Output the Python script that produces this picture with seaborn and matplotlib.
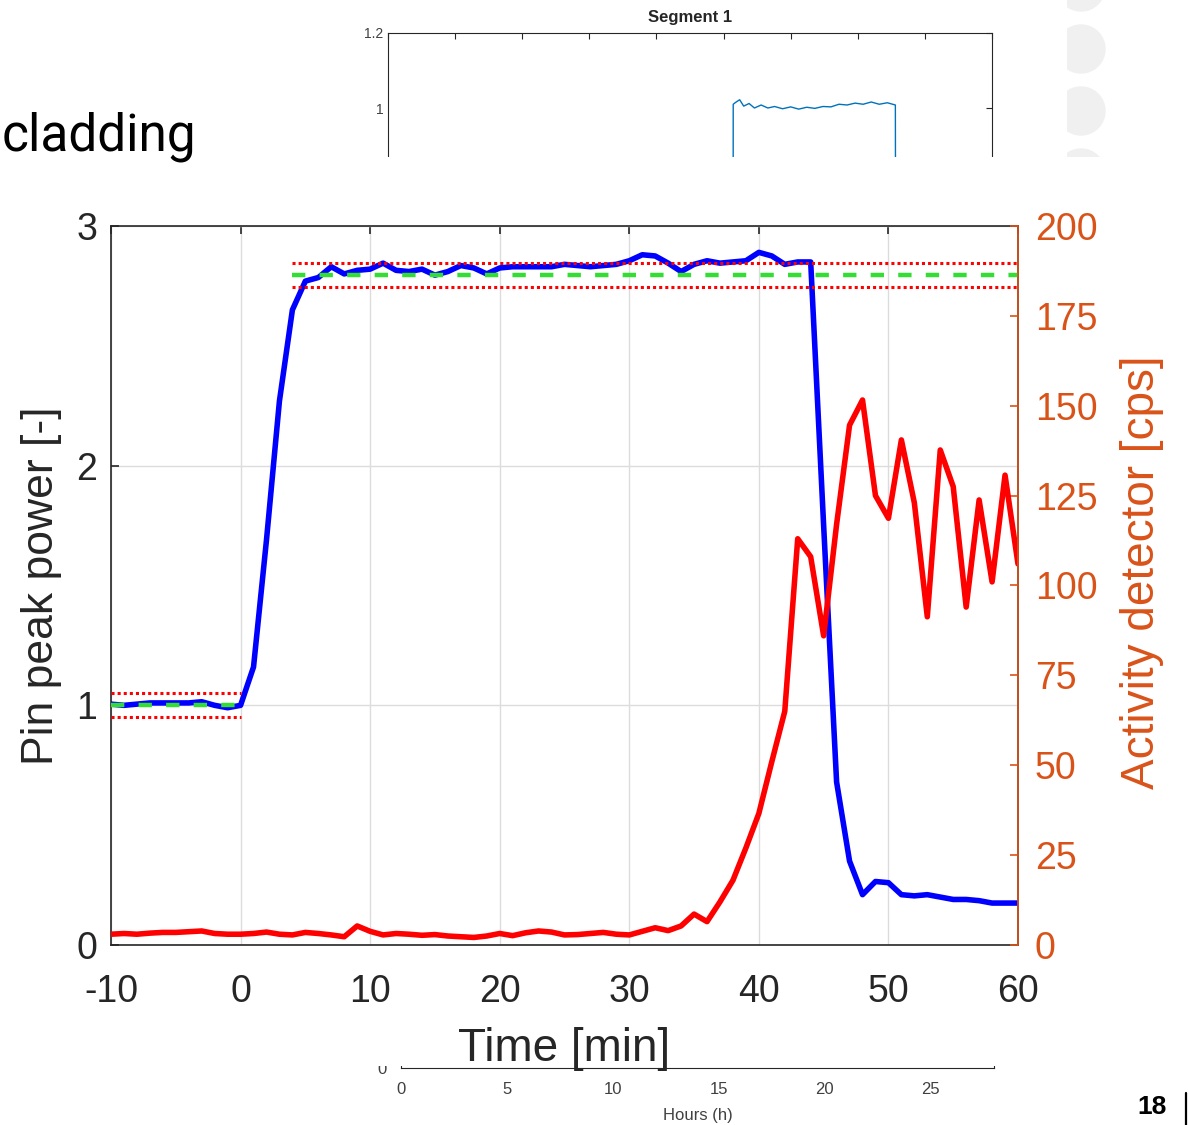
import numpy as np
import pandas as pd
import matplotlib
matplotlib.use("Agg")
import matplotlib.pyplot as plt
import seaborn as sns
from matplotlib.patches import Rectangle, Ellipse
from matplotlib.lines import Line2D

# main chart: time in minutes, 1 sample per minute
time_min = list(range(-10, 61))
pin_power = [1.005, 1.0, 1.005, 1.01, 1.01, 1.01, 1.01, 1.015, 1.0, 0.99,
             1.0, 1.16, 1.69, 2.27, 2.65, 2.77, 2.785, 2.83, 2.80, 2.815,
             2.82, 2.845, 2.815, 2.81, 2.82, 2.795, 2.81, 2.835, 2.825, 2.80,
             2.825, 2.83, 2.83, 2.83, 2.83, 2.84, 2.835, 2.83, 2.835, 2.84,
             2.855, 2.88, 2.875, 2.845, 2.81, 2.84, 2.855, 2.845, 2.85, 2.855,
             2.89, 2.875, 2.84, 2.85, 2.85, 1.75, 0.68, 0.35, 0.21, 0.265,
             0.26, 0.21, 0.205, 0.21, 0.2, 0.19, 0.19, 0.185, 0.175, 0.175, 0.175]
activity_cps = [3.0, 3.2, 3.0, 3.3, 3.5, 3.5, 3.7, 3.9, 3.2, 3.0,
                3.0, 3.2, 3.6, 3.0, 2.8, 3.5, 3.2, 2.8, 2.3, 5.3,
                3.8, 2.8, 3.2, 3.0, 2.7, 2.9, 2.5, 2.3, 2.1, 2.5,
                3.2, 2.6, 3.4, 3.9, 3.6, 2.8, 2.9, 3.2, 3.5, 3.0,
                2.8, 3.8, 4.8, 4.0, 5.3, 8.6, 6.5, 12, 18, 27,
                36.6, 51, 65, 113, 108, 86, 117, 144.6, 151.6, 125,
                118.7, 140.5, 123, 91.3, 137.7, 127.5, 94, 123.8, 101, 130.7, 106]

# reference power levels (dashed) with +/- band (dotted)
ref_start = [-10, 4]
ref_end = [0, 60]
ref_level = [1.0, 2.795]
ref_band = 0.05

# background slide chart (partly hidden)
seg_time = [25.7, 25.72, 25.9, 26.2, 26.5, 26.9, 27.3, 27.8, 28.3, 28.8, 29.4, 30.0,
            30.6, 31.2, 31.8, 32.4, 33.0, 33.6, 34.2, 34.8, 35.4, 36.0, 36.6, 37.2,
            37.8, 37.85]
seg_power = [0.0, 1.01, 1.015, 1.022, 1.005, 1.012, 1.0, 1.008, 1.0, 1.004, 0.998, 1.003,
             0.997, 1.002, 0.999, 1.004, 1.003, 1.01, 1.008, 1.013, 1.01, 1.016, 1.01, 1.014,
             1.008, 0.0]
hours_ticks = [0, 5, 10, 15, 20, 25]

ORANGE = "#D95319"
DARK = "#262626"

sns.set_style("white")
plt.rcParams["font.family"] = ["Liberation Sans", "DejaVu Sans"]
plt.rcParams["axes.unicode_minus"] = False

W, H = 1188, 1125
fig = plt.figure(figsize=(W / 100, H / 100), dpi=100)


def rect(left, top, right, bottom):
    return [left / W, 1 - bottom / H, (right - left) / W, (bottom - top) / H]


# ---- slide background ----
fig.text(2 / W, 1 - 150 / H, "cladding", ha="left", va="baseline",
         fontsize=37, family=["Roboto", "DejaVu Sans"], color="black")

clip = Rectangle((1067 / W, 0), 0.2, 1, transform=fig.transFigure, visible=False)
fig.add_artist(clip)
for cy in [-13, 49, 111, 173]:
    e = Ellipse((1081 / W, 1 - cy / H), 48 / W, 48 / H, transform=fig.transFigure,
                color="#F0F0F0", zorder=0.5)
    fig.add_artist(e)
    e.set_clip_path(clip)

seg_ax = fig.add_axes(rect(388, 33, 992, 483))
seg_ax.set_zorder(0)
sns.lineplot(x=seg_time, y=seg_power, ax=seg_ax, color="#0072BD", lw=1)
seg_ax.set_xlim(0, 45)
seg_ax.set_ylim(0, 1.2)
seg_ax.set_xticks(list(range(0, 46, 5)))
seg_ax.set_yticks([0, 0.2, 0.4, 0.6, 0.8, 1.0, 1.2])
seg_ax.set_yticklabels(["0", "0.2", "0.4", "0.6", "0.8", "1", "1.2"])
seg_ax.tick_params(direction="in", top=True, right=True, length=4, width=0.8,
                   labelsize=10, labelcolor="#404040", labelbottom=False, color=DARK)
seg_ax.set_title("Segment 1", fontsize=12, fontweight="bold", pad=8)
seg_ax.set_xlabel("")
seg_ax.set_ylabel("")
for s in seg_ax.spines.values():
    s.set_color(DARK)
    s.set_linewidth(0.8)

hours_ax = fig.add_axes(rect(401, 600, 994, 1068))
hours_ax.set_zorder(0)
hours_ax.set_xlim(0, 28)
hours_ax.set_ylim(0, 1)
hours_ax.set_xticks(hours_ticks)
hours_ax.set_yticks([0])
hours_ax.tick_params(direction="in", length=4, labelsize=12, labelcolor="#404040",
                     color=DARK, pad=10)
hours_ax.set_xlabel("Hours (h)", fontsize=12, color="#404040", labelpad=8)
for s in hours_ax.spines.values():
    s.set_color(DARK)
    s.set_linewidth(0.8)

fig.text(1152 / W, 1 - 1107 / H, "18", ha="center", va="center", fontsize=19,
         fontweight="bold", family=["Liberation Sans", "DejaVu Sans"], color="black")
fig.add_artist(Line2D([1186 / W, 1186 / W], [1 - 1093 / H, 0], color="black",
                      lw=1.6, transform=fig.transFigure))

# white overlay holding the pasted chart
fig.add_artist(Rectangle((0, 1 - 1066 / H), 1, (1066 - 157) / H, transform=fig.transFigure,
                         facecolor="white", edgecolor="none", zorder=1))

# ---- main chart ----
df = pd.DataFrame({"time": time_min, "pin": pin_power, "act": activity_cps})

ax = fig.add_axes(rect(111, 226, 1018, 945))
ax.set_zorder(2)
sns.lineplot(data=df, x="time", y="pin", ax=ax, color="#0000FF", lw=4, zorder=3)
for s, e, lvl in zip(ref_start, ref_end, ref_level):
    ax.hlines([lvl - ref_band, lvl + ref_band], s, e, colors="#FF0000",
              linestyles=[(0, (1, 1))], lw=2.2, zorder=4)
    ax.hlines(lvl, s, e, colors="#33DD33", linestyles=[(0, (3, 3.2))], lw=3.2, zorder=4)

ax.set_xlim(-10, 60)
ax.set_ylim(0, 3)
ax.set_xticks(list(range(-10, 61, 10)))
ax.set_yticks([0, 1, 2, 3])
ax.grid(True, color="#DCDCDC", lw=1)
ax.tick_params(direction="in", length=6, width=1.2, top=True, right=False,
               labelsize=27, labelcolor=DARK, color=DARK)
ax.tick_params(axis="x", pad=21)
ax.tick_params(axis="y", pad=10)
ax.set_xlabel("Time [min]", fontsize=33, color=DARK, labelpad=12)
ax.set_ylabel("Pin peak power [-]", fontsize=32, color=DARK, labelpad=10)
for name, s in ax.spines.items():
    s.set_color(DARK)
    s.set_linewidth(1.2)

ax2 = ax.twinx()
ax2.set_zorder(3)
sns.lineplot(data=df, x="time", y="act", ax=ax2, color="#FF0000", lw=4)
ax2.set_ylim(0, 200)
ax2.set_yticks(list(range(0, 201, 25)))
ax2.tick_params(direction="in", length=6, width=1.2, labelsize=27,
                labelcolor=ORANGE, color=ORANGE, pad=12)
ax2.set_ylabel("Activity detector [cps]", fontsize=33, color=ORANGE)
ax2.yaxis.set_label_coords(1.1125, 0.519)
ax2.spines["right"].set_color(ORANGE)
ax2.spines["right"].set_linewidth(1.2)
for name in ["left", "top", "bottom"]:
    ax2.spines[name].set_visible(False)

fig.savefig("out.png", dpi=100)
